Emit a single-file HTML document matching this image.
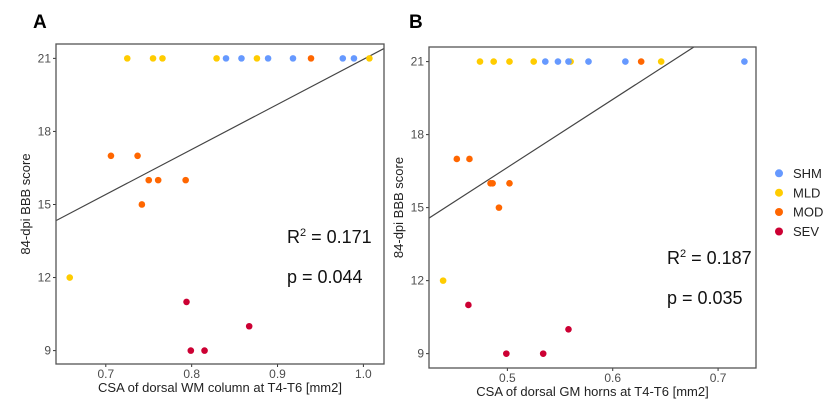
<!DOCTYPE html>
<html><head><meta charset="utf-8"><style>
body{margin:0;background:#fff;}
svg{display:block;font-family:"Liberation Sans",sans-serif;}
</style></head><body>
<svg id="s" width="830" height="403">
<text x="33" y="28" font-size="19" font-weight="bold">A</text>
<text x="409" y="28" font-size="19" font-weight="bold">B</text>
<g>
<circle cx="779" cy="173.3" r="4" fill="#6699ff"/>
<text x="793" y="178" font-size="13" fill="#222">SHM</text>
<circle cx="779" cy="192.7" r="4" fill="#ffcc00"/>
<text x="793" y="197.4" font-size="13" fill="#222">MLD</text>
<circle cx="779" cy="212" r="4" fill="#ff6600"/>
<text x="793" y="216.7" font-size="13" fill="#222">MOD</text>
<circle cx="779" cy="231.5" r="4" fill="#cc0033"/>
<text x="793" y="236.2" font-size="13" fill="#222">SEV</text>
</g>
</svg>
<script>
const colors={SHM:"#6699ff",MLD:"#ffcc00",MOD:"#ff6600",SEV:"#cc0033"};
const yTicks=[9,12,15,18,21];
// Panel A data
const aX=[0.725,0.755,0.766,0.829,0.876,1.007,0.658,0.840,0.858,0.889,0.918,0.976,0.989,0.939,0.706,0.737,0.750,0.761,0.793,0.742,0.794,0.799,0.815,0.867];
const aY=[21,21,21,21,21,21,12,21,21,21,21,21,21,21,17,17,16,16,16,15,11,9,9,10];
const aG=["MLD","MLD","MLD","MLD","MLD","MLD","MLD","SHM","SHM","SHM","SHM","SHM","SHM","MOD","MOD","MOD","MOD","MOD","MOD","MOD","SEV","SEV","SEV","SEV"];
const aXTicks=[0.7,0.8,0.9,1.0];
const aFit=[18.5,2.46];
// Panel B data
const bX=[0.474,0.487,0.502,0.525,0.560,0.646,0.439,0.536,0.548,0.558,0.577,0.612,0.725,0.627,0.452,0.464,0.484,0.486,0.502,0.492,0.463,0.499,0.534,0.558];
const bY=[21,21,21,21,21,21,12,21,21,21,21,21,21,21,17,17,16,16,16,15,11,9,9,10];
const bG=["MLD","MLD","MLD","MLD","MLD","MLD","MLD","SHM","SHM","SHM","SHM","SHM","SHM","MOD","MOD","MOD","MOD","MOD","MOD","MOD","SEV","SEV","SEV","SEV"];
const bXTicks=[0.5,0.6,0.7];
const bFit=[27.96,2.67];

const NS="http://www.w3.org/2000/svg";
const svg=document.getElementById('s');
function mk(t,a,p){const e=document.createElementNS(NS,t);for(const k in a)e.setAttribute(k,a[k]);(p||svg).appendChild(e);return e;}
function panel(id,box,xd,yd,xs,ys,gs,xt,fit,xtitle,stats){
  const g=mk('g',{});
  
  
  const X=v=>box.x0+(v-xd[0])/(xd[1]-xd[0])*(box.x1-box.x0);
  const Y=v=>box.y1-(v-yd[0])/(yd[1]-yd[0])*(box.y1-box.y0);
  yTicks.forEach(t=>{
    const tl=mk('text',{x:box.x0-5,y:Y(t)+4,'font-size':12,fill:'#4d4d4d','text-anchor':'end'},g);
    tl.textContent=t;
    
    
    mk('line',{x1:box.x0-3,x2:box.x0,y1:Y(t),y2:Y(t),stroke:'#333'},g);
  });
  xt.forEach(t=>{
    const tl=mk('text',{x:X(t),y:box.y1+14,'font-size':12,fill:'#4d4d4d','text-anchor':'middle'},g);
    tl.textContent=t.toFixed(1);
    
    
    mk('line',{x1:X(t),x2:X(t),y1:box.y1,y2:box.y1+3,stroke:'#333'},g);
  });
  const cp=mk('clipPath',{id:id+'clip'},g);
  mk('rect',{x:box.x0,y:box.y0,width:box.x1-box.x0,height:box.y1-box.y0},cp);
  const ln=mk('line',{x1:X(xd[0]),y1:Y(fit[0]*xd[0]+fit[1]),x2:X(xd[1]),y2:Y(fit[0]*xd[1]+fit[1]),stroke:'#444','stroke-width':1.2,'clip-path':'url(#'+id+'clip)'},g);
  
  
  xs.forEach((v,i)=>{
    const c=mk('circle',{cx:X(v),cy:Y(ys[i]),r:3.3,fill:colors[gs[i]]},g);
    
    
  });
  const r=mk('rect',{x:box.x0,y:box.y0,width:box.x1-box.x0,height:box.y1-box.y0,fill:'none',stroke:'#555','stroke-width':1.3},g);
  
  
  const xtl=mk('text',{x:(box.x0+box.x1)/2,y:box.y1+28,'font-size':13,fill:'#222','text-anchor':'middle'},g);
  xtl.textContent=xtitle;
  
  
  const cy=(box.y0+box.y1)/2, cx=box.x0-26;
  const ytl=mk('text',{x:cx,y:cy,'font-size':13,fill:'#222','text-anchor':'middle',transform:'rotate(-90 '+cx+' '+cy+')'},g);
  ytl.textContent='84-dpi BBB score';
  
  
  const st=mk('text',{x:stats.x,y:stats.y,'font-size':18,fill:'#111'},g);
  st.innerHTML='R<tspan dy="-7" font-size="11">2</tspan><tspan dy="7"> = '+stats.r+'</tspan>';
  
  
  const sp=mk('text',{x:stats.x,y:stats.y+40,'font-size':18,fill:'#111'},g);
  sp.textContent='p = '+stats.p;
  
  
}
panel('a',{x0:56,x1:384,y0:44,y1:364},[0.642,1.024],[8.45,21.59],aX,aY,aG,aXTicks,aFit,'CSA of dorsal WM column at T4-T6 [mm2]',{x:287,y:243,r:'0.171',p:'0.044'});
panel('b',{x0:429,x1:756,y0:47,y1:368},[0.4256,0.736],[8.41,21.6],bX,bY,bG,bXTicks,bFit,'CSA of dorsal GM horns at T4-T6 [mm2]',{x:667,y:264,r:'0.187',p:'0.035'});
</script>
</body></html>
